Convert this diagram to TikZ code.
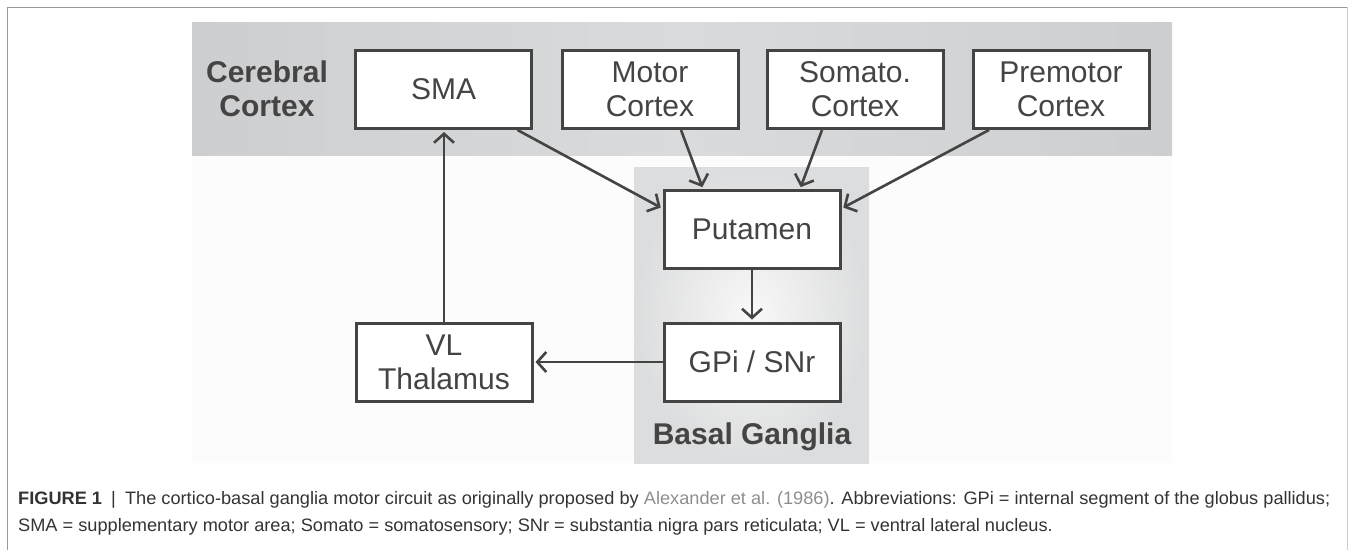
\documentclass[tikz,border=0pt]{standalone}
\usepackage{fontspec}
\setmainfont{Liberation Sans}
\usetikzlibrary{arrows.meta,calc}
\definecolor{ink}{HTML}{444444}
\definecolor{capink}{HTML}{333333}
\definecolor{linkgray}{HTML}{8E8E8E}
\definecolor{bandedge}{HTML}{CDCED0}
\definecolor{bandmid}{HTML}{DADBDC}
\definecolor{bgin}{HTML}{F8F8F8}
\definecolor{bgout}{HTML}{DCDDDE}
\definecolor{faint}{HTML}{FCFCFC}
\newcommand\capfont{\fontsize{18}{21}\selectfont}
\newcommand\capone{\textbf{FIGURE 1}\enspace|\enspace The cortico-basal ganglia motor circuit as originally proposed by \textcolor{linkgray}{Alexander et al. (1986)}. Abbreviations: GPi = internal segment of the globus pallidus;}
\newcommand\captwo{SMA = supplementary motor area; Somato = somatosensory; SNr = substantia nigra pars reticulata; VL = ventral lateral nucleus.}
\newlength\capwidthone
\newcommand\capfac{1}
\begin{document}
\settowidth{\capwidthone}{\capfont\capone}%
\pgfmathsetmacro{\capfac}{1312pt/\capwidthone}%
\begin{tikzpicture}[x=1pt,y=-1pt,
  box/.style={draw=ink, line width=3pt, fill=white, minimum width=176pt, minimum height=78pt,
    inner sep=0pt, align=center, font=\fontsize{30}{34}\selectfont, text=ink},
  region/.style={font=\fontsize{30}{34}\selectfont\bfseries, text=ink, align=center, inner sep=0pt},
  conn/.style={draw=ink, line width=2.6pt, -{Straight Barb[length=9pt,width=20pt]}, shorten >=2pt},
  captext/.style={anchor=base west, inner sep=0pt, text=capink, font=\capfont}]
\useasboundingbox (0,0) rectangle (1354,550);
% frame
\draw[draw=gray!80, line width=1pt] (7,550) -- (7,7) -- (1347,7);
\draw[draw=gray!40, line width=1pt] (1347,7) -- (1347,550);
% regions
\fill[faint] (192,155) rectangle (1172,463);
\shade[left color=bandedge, right color=bandedge, middle color=bandmid] (192,22) rectangle (1172,155);
\shade[inner color=bgin, outer color=bgout] (634,167) rectangle (869,463);
% labels
\node[region] (cc) at (267,89) {Cerebral\\Cortex};
\node[region, anchor=base] (bg) at (752,444) {Basal Ganglia};
% boxes
\node[box] (sma) at (443.5,89.5) {SMA};
\node[box] (motor) at (650,89.5) {Motor\\Cortex};
\node[box] (somato) at (855,89.5) {Somato.\\Cortex};
\node[box] (pre) at (1061,89.5) {Premotor\\Cortex};
\node[box] (put) at (752,229.5) {Putamen};
\node[box] (gpi) at (752,362) {GPi / SNr};
\node[box] (vl) at (444,362) {VL\\Thalamus};
% connectors
\draw[conn] ([xshift=74pt]sma.south) -- ([yshift=21pt]put.west);
\draw[conn] ([xshift=31pt]motor.south) -- ([xshift=-49pt]put.north);
\draw[conn] ([xshift=-33pt]somato.south) -- ([xshift=48pt]put.north);
\draw[conn] ([xshift=-72pt]pre.south) -- ([yshift=21pt]put.east);
\draw[conn] (put.south) -- (gpi.north);
\draw[conn] (gpi.west) -- (vl.east);
\draw[conn] (vl.north) -- (vl.north |- sma.south);
% caption
\node[captext] (cap1) at (18,504) {\scalebox{\capfac}[1]{\capone}};
\node[captext] (cap2) at (18,531) {\scalebox{\capfac}[1]{\captwo}};
\end{tikzpicture}
\end{document}
